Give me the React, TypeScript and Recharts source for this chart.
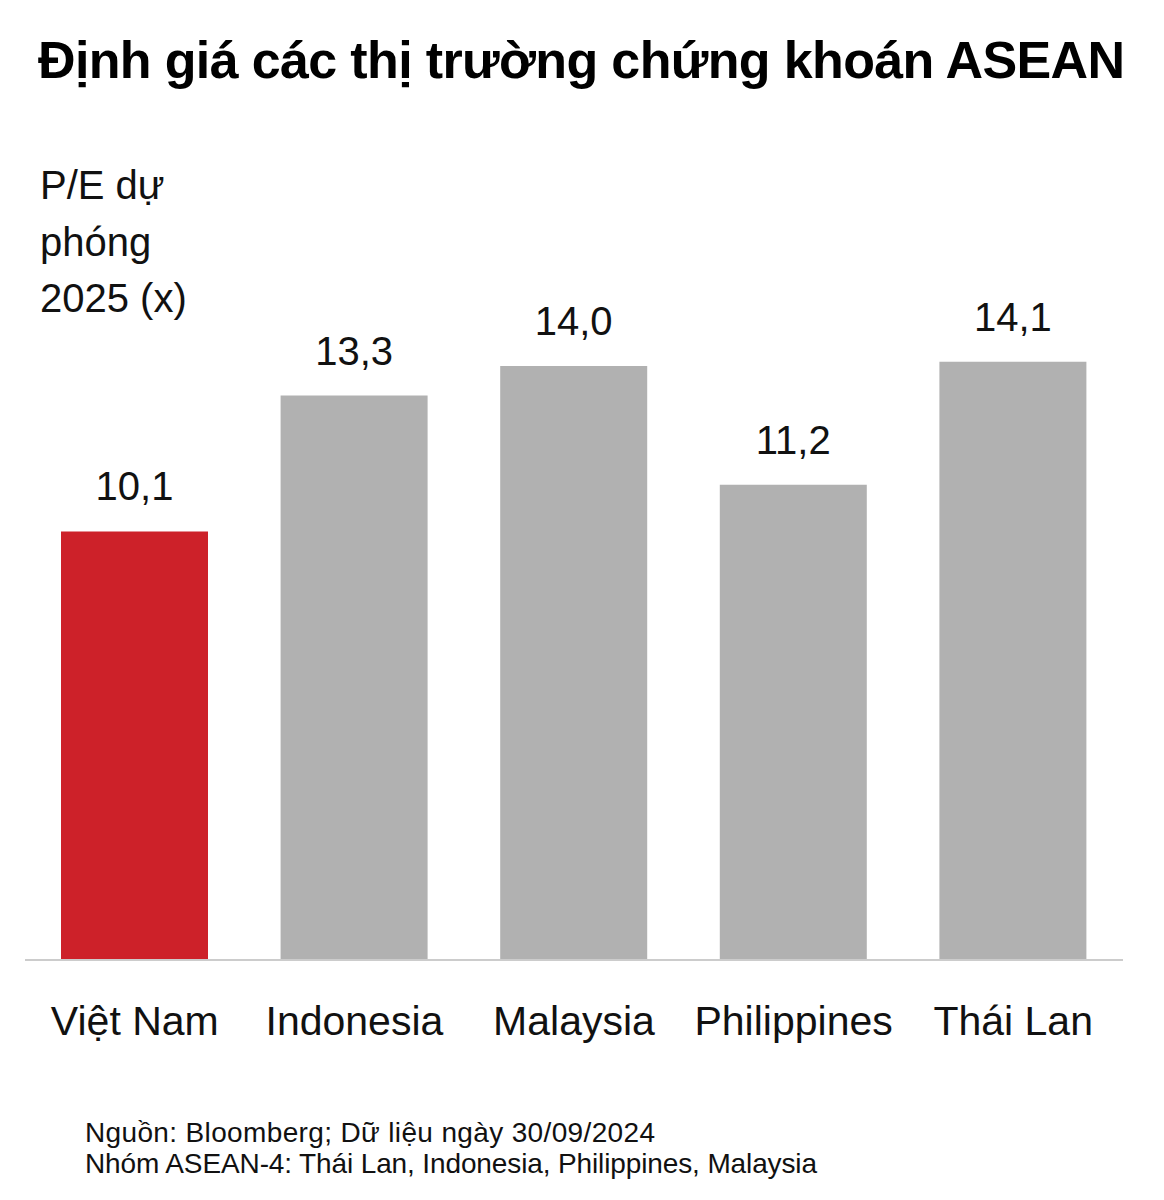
import React from "react"
import { BarChart, Bar, XAxis, YAxis, Cell, LabelList } from "recharts"

// P/E dự phóng 2025 (x), Bloomberg 30/09/2024
const markets = ["Việt Nam", "Indonesia", "Malaysia", "Philippines", "Thái Lan"]
const peForward = [10.1, 13.3, 14.0, 11.2, 14.1]
const highlightMarket = "Việt Nam"

const yLabelLines = ["P/E dự", "phóng", "2025 (x)"]
const footnotes = [
  "Nguồn: Bloomberg; Dữ liệu ngày 30/09/2024",
  "Nhóm ASEAN-4: Thái Lan, Indonesia, Philippines, Malaysia",
]

const FONT = '"Liberation Sans", Arial, Helvetica, sans-serif'
const RED = "#CD2129"
const GREY = "#B1B1B1"
const INK = "#111111"

const data = markets.map((market, i) => ({ market, pe: peForward[i] }))

export default function App() {
  return (
    <div style={{ position: "absolute", left: 0, top: 0, width: 1164, height: 1200, background: "#fff", fontFamily: FONT }}>
      <div style={{ position: "absolute", left: 0, top: 0 }}>
        <BarChart width={1164} height={1110} data={data} margin={{ top: 281, right: 41, left: 25, bottom: 10 }}>
          <XAxis
            dataKey="market"
            height={140}
            interval={0}
            tickLine={false}
            tickMargin={40}
            axisLine={{ stroke: "#CCCCCC", strokeWidth: 2 }}
            tick={{ fontSize: 41, fill: INK, fontFamily: FONT }}
          />
          <YAxis hide width={0} domain={[0, 16]} />
          <Bar dataKey="pe" barSize={147} isAnimationActive={false}>
            {data.map(d => (
              <Cell key={d.market} fill={d.market === highlightMarket ? RED : GREY} />
            ))}
            <LabelList
              dataKey="pe"
              position="top"
              offset={31}
              fontSize={40}
              fill={INK}
              fontFamily={FONT}
              formatter={(v: any) => Number(v).toFixed(1).replace(".", ",")}
            />
          </Bar>
        </BarChart>
      </div>
      <svg width={1164} height={1200} style={{ position: "absolute", left: 0, top: 0, pointerEvents: "none" }}>
        <text x={38} y={78} fontSize={52} fontWeight={700} fill="#000" fontFamily={FONT} textLength={1087} lengthAdjust="spacing">
          Định giá các thị trường chứng khoán ASEAN
        </text>
        {yLabelLines.map((line, i) => (
          <text key={line} x={40} y={199 + i * 56.5} fontSize={40} fill={INK} fontFamily={FONT}>
            {line}
          </text>
        ))}
        <text x={85} y={1142} fontSize={28} fill={INK} fontFamily={FONT} textLength={570} lengthAdjust="spacing">
          {footnotes[0]}
        </text>
        <text x={85} y={1173} fontSize={28} fill={INK} fontFamily={FONT} textLength={732} lengthAdjust="spacing">
          {footnotes[1]}
        </text>
      </svg>
    </div>
  )
}
